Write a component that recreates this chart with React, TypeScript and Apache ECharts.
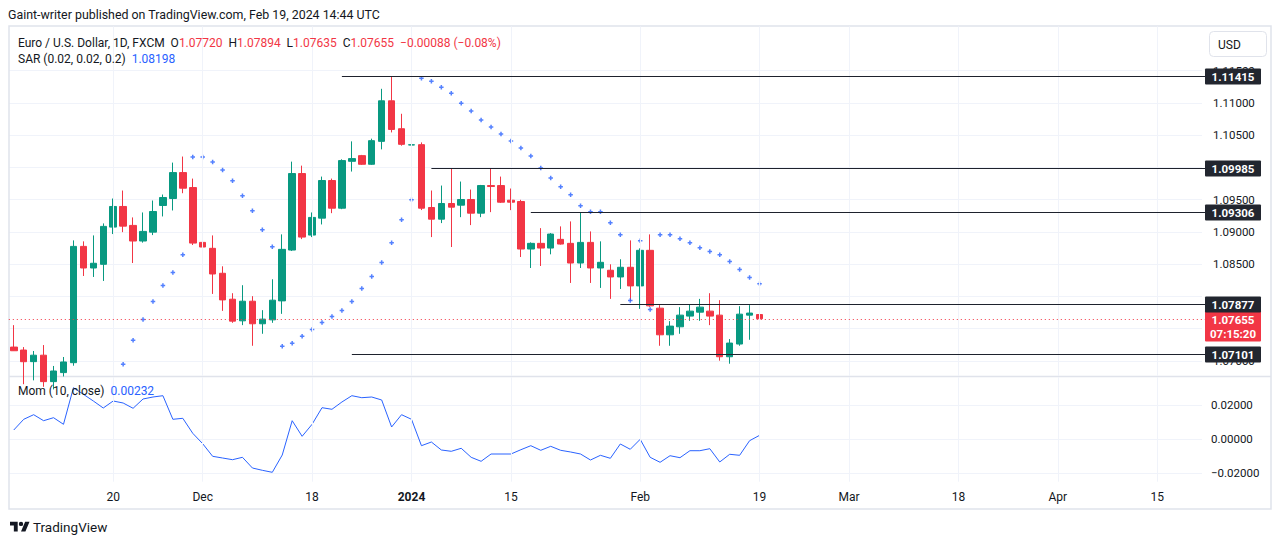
import React, { useEffect, useRef } from "react";
import * as echarts from "echarts";

const FONT = 'Roboto, "Liberation Sans", sans-serif';
const TEXT = "#131722";
const UP = "#089981";
const DOWN = "#f23645";
const BLUE = "#2962ff";
const GRID = "#f0f3fa";
const FRAME = "#e0e3eb";

const dates: string[] = [
  "2023-11-06", "2023-11-07", "2023-11-08", "2023-11-09", "2023-11-10",
  "2023-11-13", "2023-11-14", "2023-11-15", "2023-11-16", "2023-11-17",
  "2023-11-20", "2023-11-21", "2023-11-22", "2023-11-23", "2023-11-24",
  "2023-11-27", "2023-11-28", "2023-11-29", "2023-11-30", "2023-12-01",
  "2023-12-04", "2023-12-05", "2023-12-06", "2023-12-07", "2023-12-08",
  "2023-12-11", "2023-12-12", "2023-12-13", "2023-12-14", "2023-12-15",
  "2023-12-18", "2023-12-19", "2023-12-20", "2023-12-21", "2023-12-22",
  "2023-12-25", "2023-12-26", "2023-12-27", "2023-12-28", "2023-12-29",
  "2024-01-01", "2024-01-02", "2024-01-03", "2024-01-04", "2024-01-05",
  "2024-01-08", "2024-01-09", "2024-01-10", "2024-01-11", "2024-01-12",
  "2024-01-15", "2024-01-16", "2024-01-17", "2024-01-18", "2024-01-19",
  "2024-01-22", "2024-01-23", "2024-01-24", "2024-01-25", "2024-01-26",
  "2024-01-29", "2024-01-30", "2024-01-31", "2024-02-01", "2024-02-02",
  "2024-02-05", "2024-02-06", "2024-02-07", "2024-02-08", "2024-02-09",
  "2024-02-12", "2024-02-13", "2024-02-14", "2024-02-15", "2024-02-16",
  "2024-02-19", "2024-02-20", "2024-02-21", "2024-02-22", "2024-02-23",
  "2024-02-26", "2024-02-27", "2024-02-28", "2024-02-29", "2024-03-01",
  "2024-03-04", "2024-03-05", "2024-03-06", "2024-03-07", "2024-03-08",
  "2024-03-11", "2024-03-12", "2024-03-13", "2024-03-14", "2024-03-15",
  "2024-03-18", "2024-03-19", "2024-03-20", "2024-03-21", "2024-03-22",
  "2024-03-25", "2024-03-26", "2024-03-27", "2024-03-28", "2024-03-29",
  "2024-04-01", "2024-04-02", "2024-04-03", "2024-04-04", "2024-04-05",
  "2024-04-08", "2024-04-09", "2024-04-10", "2024-04-11", "2024-04-12",
  "2024-04-15", "2024-04-16", "2024-04-17", "2024-04-18", "2024-04-19",
];

const opens: number[] = [
  1.07216, 1.0717, 1.0699, 1.0709, 1.0668, 1.0682, 1.06974, 1.08777, 1.08442, 1.08499,
  1.09076, 1.09396, 1.09102, 1.0886, 1.08998, 1.09411, 1.09519, 1.09921, 1.09689, 1.08839,
  1.08747, 1.0836, 1.07958, 1.07623, 1.07927, 1.07577, 1.07638, 1.07932, 1.0872, 1.09906,
  1.08952, 1.09215, 1.09798, 1.09369, 1.10096, 1.10184, 1.1005, 1.10405, 1.11034, 1.10601,
  1.10349, 1.10354, 1.0938, 1.09199, 1.09442, 1.09416, 1.09504, 1.09292, 1.0972, 1.0972,
  1.09493, 1.09473, 1.08736, 1.08824, 1.08751, 1.08886, 1.08824, 1.08519, 1.08839, 1.08442,
  1.08407, 1.08303, 1.08453, 1.08164, 1.08716, 1.07819, 1.07406, 1.0753, 1.07696, 1.07757,
  1.07773, 1.07711, 1.07066, 1.07263, 1.07711, 1.0772,
];
const highs: number[] = [
  1.07556, 1.07216, 1.07155, 1.07247, 1.06923, 1.07062, 1.0887, 1.08855, 1.08947, 1.09133,
  1.09519, 1.09643, 1.09226, 1.09303, 1.09488, 1.09581, 1.10076, 1.1017, 1.09828, 1.09117,
  1.08947, 1.08468, 1.08051, 1.08175, 1.08005, 1.07788, 1.08267, 1.08963, 1.10091, 1.10029,
  1.09303, 1.09859, 1.09828, 1.10127, 1.10405, 1.10195, 1.10447, 1.1122, 1.11415, 1.10833,
  1.10355, 1.10389, 1.09643, 1.0972, 1.09978, 1.09782, 1.09658, 1.0973, 1.09985, 1.09859,
  1.09674, 1.09499, 1.08839, 1.0906, 1.08983, 1.09087, 1.09164, 1.09306, 1.09009, 1.08855,
  1.08499, 1.08577, 1.0887, 1.08747, 1.08963, 1.07866, 1.07618, 1.07835, 1.07881, 1.07963,
  1.08051, 1.07943, 1.0734, 1.0785, 1.07866, 1.07894,
];
const lows: number[] = [
  1.07155, 1.0664, 1.067, 1.066, 1.0656, 1.0676, 1.06927, 1.08318, 1.08303, 1.08241,
  1.08968, 1.08998, 1.08519, 1.08835, 1.08952, 1.09241, 1.09334, 1.09601, 1.08798, 1.08287,
  1.0804, 1.07777, 1.07592, 1.07556, 1.07236, 1.07422, 1.07592, 1.07731, 1.08705, 1.0889,
  1.08921, 1.09117, 1.09292, 1.09354, 1.09937, 1.1004, 1.1004, 1.10281, 1.10544, 1.10338,
  1.10345, 1.0934, 1.08921, 1.09138, 1.08767, 1.0923, 1.09107, 1.0923, 1.09308, 1.0945,
  1.09339, 1.08612, 1.08442, 1.08473, 1.08654, 1.08804, 1.0821, 1.08442, 1.0821, 1.08133,
  1.07963, 1.08117, 1.07932, 1.07808, 1.0784, 1.07236, 1.07236, 1.07422, 1.07623, 1.07623,
  1.07556, 1.07005, 1.06958, 1.07236, 1.07329, 1.07635,
];
const closes: number[] = [
  1.07159, 1.06989, 1.0709, 1.0668, 1.06845, 1.06985, 1.08777, 1.08442, 1.08515, 1.09087,
  1.09396, 1.09091, 1.0886, 1.09009, 1.09318, 1.09535, 1.09921, 1.09679, 1.08828, 1.08767,
  1.08349, 1.07947, 1.07618, 1.07927, 1.07577, 1.07649, 1.07943, 1.08731, 1.09906, 1.08921,
  1.09226, 1.09798, 1.09369, 1.10107, 1.10138, 1.1005, 1.10416, 1.11034, 1.1059, 1.10359,
  1.10352, 1.09369, 1.09199, 1.09442, 1.09385, 1.09504, 1.09292, 1.0972, 1.09705, 1.09462,
  1.09462, 1.08736, 1.08824, 1.08751, 1.08968, 1.08813, 1.08519, 1.08839, 1.08442, 1.0853,
  1.08303, 1.08453, 1.08164, 1.08716, 1.07855, 1.07406, 1.07541, 1.07711, 1.07773, 1.07835,
  1.07696, 1.07066, 1.07278, 1.07726, 1.07743, 1.07655,
];

const sar: (number | null)[] = [
  null, null, null, null, null, null, null, null, null, null,
  null, 1.06949, 1.0732, 1.07645, 1.07923, 1.0817, 1.08371, 1.08649, 1.10164, 1.10164,
  1.10087, 1.09963, 1.09793, 1.09561, 1.09329, 1.09036, 1.08773, 1.07227, 1.07274, 1.07382,
  1.0749, 1.07598, 1.07691, 1.07784, 1.07923, 1.08124, 1.08309, 1.08526, 1.08835, 1.0919,
  1.09499, 1.11385, 1.11338, 1.11246, 1.11153, 1.10998, 1.10875, 1.10736, 1.10628, 1.10519,
  1.10411, 1.10303, 1.10179, 1.09994, 1.09839, 1.097, 1.09577, 1.09406, 1.09314, 1.09314,
  1.09144, 1.08958, 1.07938, 1.08866, 1.07799, 1.08958, 1.08958, 1.08896, 1.08835, 1.08757,
  1.08696, 1.08649, 1.08541, 1.08417, 1.08294, 1.08198,
];

const mom: number[] = [
  0.00547, 0.01176, 0.01447, 0.01094, 0.01271, 0.00882, 0.03035, 0.02647, 0.02253, 0.01841,
  0.02253, 0.02135, 0.01824, 0.02371, 0.02488, 0.02565, 0.01176, 0.01235, 0.00353, -0.00259,
  -0.01, -0.011, -0.012, -0.01059, -0.01688, -0.01824, -0.01941, -0.00924, 0.01094, 0.00176,
  0.00882, 0.01859, 0.01765, 0.02194, 0.02565, 0.02447, 0.02488, 0.02312, 0.00724, 0.01447,
  0.01176, -0.00376, -0.00159, -0.00629, -0.00706, -0.00529, -0.01059, -0.01294, -0.00865, -0.00865,
  -0.00865, -0.00612, -0.00376, -0.00647, -0.00412, -0.00647, -0.00747, -0.00865, -0.01218, -0.00941,
  -0.01118, -0.00276, -0.00588, 0.0, -0.01059, -0.01353, -0.00965, -0.01082, -0.00671, -0.00671,
  -0.00553, -0.01335, -0.00882, -0.00941, -0.00082, 0.00232,
];

const xTickDates = [
  "2023-11-20", "2023-12-01", "2023-12-18", "2024-01-01", "2024-01-15", "2024-02-01",
  "2024-02-19", "2024-03-01", "2024-03-18", "2024-04-01", "2024-04-15",
];
const xTickLabels = ["20", "Dec", "18", "2024", "15", "Feb", "19", "Mar", "18", "Apr", "15"];
// grid lines at every 0.005; the labels that the price boxes fully cover are not drawn
const priceGridTicks = [1.07, 1.075, 1.08, 1.085, 1.09, 1.095, 1.1, 1.105, 1.11, 1.115];
const priceLabelTicks = [1.07, 1.085, 1.09, 1.095, 1.105, 1.11, 1.115];
const momTicks = [-0.02, 0, 0.02];

const rayLevels = [1.11415, 1.09985, 1.09306, 1.07877, 1.07101];
const rayStarts = ["2023-12-21", "2024-01-03", "2024-01-17", "2024-01-30", "2023-12-22"];

const countdown = "07:15:20";
const headerText = "Gaint-writer published on TradingView.com, Feb 19, 2024 14:44 UTC";
const symbolText = "Euro / U.S. Dollar, 1D, FXCM";
const sarText = "SAR (0.02, 0.02, 0.2)";
const momText = "Mom (10, close)";

const LOGO_D =
  "M14 22H7V11H0V4h14v18zM28 22h-8l7.5-18h8L28 22zM16 8a4 4 0 1 0 8 0a4 4 0 1 0-8 0z";
echarts.graphic.registerShape("tvLogo", echarts.graphic.extendPath(LOGO_D, {}));

const fmtSigned = (v: number, d: number) => (v < 0 ? "\u2212" : "") + Math.abs(v).toFixed(d);

function buildOption() {
  const last = opens.length - 1;
  const lastClose = closes[last];
  const change = lastClose - closes[last - 1];
  const pct = (change / closes[last - 1]) * 100;

  const tickIdx = new Set(xTickDates.map((d) => dates.indexOf(d)));
  const labelByDate: Record<string, string> = {};
  xTickDates.forEach((d, i) => (labelByDate[d] = xTickLabels[i]));

  const candleData = opens.map((o, i) => [o, closes[i], lows[i], highs[i]]);
  const vLines = xTickDates.map((d) => ({ xAxis: d }));
  const vMark = {
    silent: true,
    symbol: ["none", "none"],
    label: { show: false },
    emphasis: { disabled: true },
    lineStyle: { color: GRID, width: 1, type: "solid" },
    data: vLines,
  };

  const legend1 =
    `{a|${symbolText}  O}{r|${opens[last].toFixed(5)}}{a|  H}{r|${highs[last].toFixed(5)}}` +
    `{a|  L}{r|${lows[last].toFixed(5)}}{a|  C}{r|${lastClose.toFixed(5)}}` +
    `{r|  ${fmtSigned(change, 5)} (${fmtSigned(pct, 2)}%)}`;

  return {
    animation: false,
    backgroundColor: "#ffffff",
    grid: [
      { left: 8.8, width: 1193.2, top: 26.5, height: 349.5 },
      { left: 8.8, width: 1193.2, top: 377, height: 104.7 },
    ],
    xAxis: [
      { type: "category", gridIndex: 0, data: dates, show: false, boundaryGap: true },
      {
        type: "category",
        gridIndex: 1,
        data: dates,
        boundaryGap: true,
        axisLine: { show: false },
        axisTick: { show: false },
        splitLine: { show: false },
        axisLabel: {
          interval: (i: number) => tickIdx.has(i),
          formatter: (v: string) => (labelByDate[v] === "2024" ? "{b|2024}" : labelByDate[v] || ""),
          color: TEXT,
          fontSize: 12,
          fontFamily: FONT,
          margin: 9,
          rich: { b: { fontWeight: "bold", fontSize: 12, fontFamily: FONT, color: TEXT } },
        },
      },
    ],
    yAxis: [
      {
        type: "value",
        gridIndex: 0,
        position: "right",
        min: 1.067674,
        max: 1.12186,
        axisLine: { show: false },
        axisTick: { show: false, customValues: priceGridTicks },
        axisLabel: {
          customValues: priceLabelTicks,
          formatter: (v: number) => v.toFixed(5),
          color: TEXT,
          fontSize: 11.5,
          fontFamily: FONT,
          margin: 11,
        },
        splitLine: { show: true, lineStyle: { color: GRID, width: 1 } },
      },
      {
        type: "value",
        gridIndex: 1,
        position: "right",
        min: -0.024941,
        max: 0.036647,
        axisLine: { show: false },
        axisTick: { show: false, customValues: momTicks },
        axisLabel: {
          customValues: momTicks,
          formatter: (v: number) => fmtSigned(v, 5),
          color: TEXT,
          fontSize: 11.5,
          fontFamily: FONT,
          margin: 9,
        },
        splitLine: { show: true, lineStyle: { color: GRID, width: 1 } },
      },
    ],
    series: [
      {
        type: "candlestick",
        xAxisIndex: 0,
        yAxisIndex: 0,
        data: candleData,
        barWidth: 7,
        itemStyle: { color: UP, color0: DOWN, borderColor: UP, borderColor0: DOWN, borderWidth: 1 },
        emphasis: { disabled: true },
        markLine: vMark,
        z: 3,
      },
      {
        type: "scatter",
        xAxisIndex: 0,
        yAxisIndex: 0,
        data: sar.map((v) => (v == null ? "-" : v)),
        symbol: "path://M2,0H4V2H6V4H4V6H2V4H0V2H2Z",
        symbolSize: 4.5,
        itemStyle: { color: BLUE },
        emphasis: { disabled: true },
        z: 4,
      },
      {
        type: "custom",
        xAxisIndex: 0,
        yAxisIndex: 0,
        clip: false,
        z: 10,
        data: rayStarts.map((d, i) => [d, rayLevels[i]]),
        encode: { x: 0, y: 1 },
        renderItem: (params: any, api: any) => {
          const lvl = api.value(1);
          const p = api.coord([api.value(0), lvl]);
          const cs = params.coordSys;
          const right = cs.x + cs.width;
          const y = Math.round(p[1]) + 0.5;
          return {
            type: "group",
            children: [
              {
                type: "line",
                shape: { x1: p[0], y1: y, x2: right + 3, y2: y },
                style: { stroke: "#1e222d", lineWidth: 1 },
              },
              {
                type: "rect",
                shape: { x: right + 3, y: y - 8, width: 56, height: 16, r: 1 },
                style: { fill: "#22262f" },
              },
              {
                type: "text",
                style: {
                  text: lvl.toFixed(5),
                  x: right + 31,
                  y: y + 0.5,
                  align: "center",
                  verticalAlign: "middle",
                  fill: "#ffffff",
                  font: `bold 11.5px ${FONT}`,
                },
              },
            ],
          };
        },
      },
      {
        type: "custom",
        xAxisIndex: 0,
        yAxisIndex: 0,
        clip: false,
        z: 9,
        data: [[dates[last], lastClose]],
        encode: { x: 0, y: 1 },
        renderItem: (params: any, api: any) => {
          const lvl = api.value(1);
          const p = api.coord([api.value(0), lvl]);
          const cs = params.coordSys;
          const right = cs.x + cs.width;
          const y = Math.round(p[1]) + 0.5;
          return {
            type: "group",
            children: [
              {
                type: "line",
                shape: { x1: cs.x, y1: y, x2: right + 3, y2: y },
                style: { stroke: DOWN, lineWidth: 1, lineDash: [1, 3] },
              },
              {
                type: "rect",
                shape: { x: right + 3, y: y - 9, width: 56, height: 31, r: 1 },
                style: { fill: DOWN },
              },
              {
                type: "text",
                style: {
                  text: lvl.toFixed(5),
                  x: right + 31,
                  y: y + 0.5,
                  align: "center",
                  verticalAlign: "middle",
                  fill: "#ffffff",
                  font: `bold 11.5px ${FONT}`,
                },
              },
              {
                type: "text",
                style: {
                  text: countdown,
                  x: right + 31,
                  y: y + 14.5,
                  align: "center",
                  verticalAlign: "middle",
                  fill: "#ffffff",
                  font: `bold 11.5px ${FONT}`,
                },
              },
            ],
          };
        },
      },
      {
        type: "line",
        xAxisIndex: 1,
        yAxisIndex: 1,
        data: mom,
        symbol: "none",
        lineStyle: { color: BLUE, width: 1 },
        emphasis: { disabled: true },
        markLine: vMark,
        z: 3,
      },
    ],
    graphic: [
      {
        type: "text",
        z: 100,
        style: { text: headerText, x: 8, y: 14, verticalAlign: "middle", fill: TEXT, font: `12.4px ${FONT}` },
      },
      {
        type: "rect",
        z: 1,
        shape: { x: 9, y: 26, width: 1262, height: 483 },
        style: { fill: "none", stroke: FRAME, lineWidth: 1.5 },
      },
      {
        type: "line",
        z: 1,
        shape: { x1: 9, y1: 376.5, x2: 1271, y2: 376.5 },
        style: { stroke: FRAME, lineWidth: 1.5 },
      },
      {
        type: "rect",
        z: 100,
        shape: { x: 1209.5, y: 31.5, width: 57, height: 25, r: 4 },
        style: { fill: "#ffffff", stroke: FRAME, lineWidth: 1 },
      },
      {
        type: "text",
        z: 101,
        style: { text: "USD", x: 1218, y: 44.5, verticalAlign: "middle", fill: TEXT, font: `12px ${FONT}` },
      },
      {
        type: "text",
        z: 100,
        style: {
          text: legend1,
          x: 18,
          y: 42.5,
          verticalAlign: "middle",
          rich: {
            a: { fill: TEXT, font: `12px ${FONT}` },
            r: { fill: DOWN, font: `12px ${FONT}` },
          },
        },
      },
      {
        type: "text",
        z: 100,
        style: {
          text: `{a|${sarText}  }{b|${(sar[last] as number).toFixed(5)}}`,
          x: 18,
          y: 58.5,
          verticalAlign: "middle",
          rich: {
            a: { fill: TEXT, font: `12px ${FONT}` },
            b: { fill: BLUE, font: `12px ${FONT}` },
          },
        },
      },
      {
        type: "text",
        z: 100,
        style: {
          text: `{a|${momText}  }{b|${mom[last].toFixed(5)}}`,
          x: 18,
          y: 391,
          verticalAlign: "middle",
          rich: {
            a: { fill: TEXT, font: `12px ${FONT}` },
            b: { fill: BLUE, font: `12px ${FONT}` },
          },
        },
      },
      {
        type: "tvLogo",
        z: 100,
        x: 10,
        y: 519.5,
        scaleX: 0.55,
        scaleY: 0.55,
        style: { fill: TEXT },
      },
      {
        type: "text",
        z: 100,
        style: { text: "TradingView", x: 33, y: 527, verticalAlign: "middle", fill: TEXT, font: `13.5px ${FONT}` },
      },
    ],
  };
}

export default function App() {
  const ref = useRef<HTMLDivElement>(null);
  useEffect(() => {
    if (!ref.current) return;
    const chart = echarts.init(ref.current, null, { renderer: "svg" });
    chart.setOption(buildOption() as any);
    return () => chart.dispose();
  }, []);
  return (
    <div
      ref={ref}
      style={{ position: "fixed", left: 0, top: 0, width: 1281, height: 545, background: "#ffffff" }}
    />
  );
}
